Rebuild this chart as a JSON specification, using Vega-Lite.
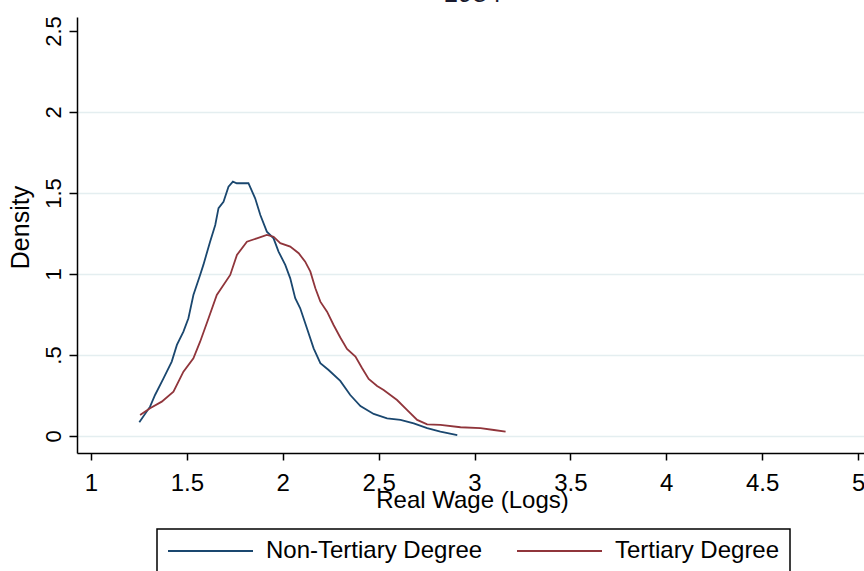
{
  "$schema": "https://vega.github.io/schema/vega-lite/v6.json",
  "width": 787,
  "height": 436,
  "autosize": {"type": "none"},
  "padding": {"left": 77, "top": 17, "right": 0, "bottom": 118},
  "background": "white",
  "title": {"text": "1984", "fontSize": 26, "font": "Liberation Sans", "fontWeight": "normal", "color": "#1a1a2e", "offset": -12, "baseline": "alphabetic", "anchor": "middle", "frame": "group", "dx": 2},
  "datasets": {
    "curves": [
      {"group": "Non-Tertiary Degree", "wage": 1.252, "density": 0.085},
      {"group": "Non-Tertiary Degree", "wage": 1.308, "density": 0.181},
      {"group": "Non-Tertiary Degree", "wage": 1.334, "density": 0.253},
      {"group": "Non-Tertiary Degree", "wage": 1.378, "density": 0.356},
      {"group": "Non-Tertiary Degree", "wage": 1.421, "density": 0.459},
      {"group": "Non-Tertiary Degree", "wage": 1.448, "density": 0.562},
      {"group": "Non-Tertiary Degree", "wage": 1.482, "density": 0.644},
      {"group": "Non-Tertiary Degree", "wage": 1.508, "density": 0.727},
      {"group": "Non-Tertiary Degree", "wage": 1.534, "density": 0.870},
      {"group": "Non-Tertiary Degree", "wage": 1.569, "density": 0.994},
      {"group": "Non-Tertiary Degree", "wage": 1.586, "density": 1.056},
      {"group": "Non-Tertiary Degree", "wage": 1.621, "density": 1.199},
      {"group": "Non-Tertiary Degree", "wage": 1.648, "density": 1.302},
      {"group": "Non-Tertiary Degree", "wage": 1.665, "density": 1.406},
      {"group": "Non-Tertiary Degree", "wage": 1.691, "density": 1.446},
      {"group": "Non-Tertiary Degree", "wage": 1.717, "density": 1.539},
      {"group": "Non-Tertiary Degree", "wage": 1.740, "density": 1.570},
      {"group": "Non-Tertiary Degree", "wage": 1.760, "density": 1.560},
      {"group": "Non-Tertiary Degree", "wage": 1.821, "density": 1.560},
      {"group": "Non-Tertiary Degree", "wage": 1.856, "density": 1.467},
      {"group": "Non-Tertiary Degree", "wage": 1.883, "density": 1.364},
      {"group": "Non-Tertiary Degree", "wage": 1.917, "density": 1.261},
      {"group": "Non-Tertiary Degree", "wage": 1.952, "density": 1.220},
      {"group": "Non-Tertiary Degree", "wage": 1.978, "density": 1.138},
      {"group": "Non-Tertiary Degree", "wage": 2.013, "density": 1.056},
      {"group": "Non-Tertiary Degree", "wage": 2.039, "density": 0.973},
      {"group": "Non-Tertiary Degree", "wage": 2.065, "density": 0.850},
      {"group": "Non-Tertiary Degree", "wage": 2.091, "density": 0.788},
      {"group": "Non-Tertiary Degree", "wage": 2.126, "density": 0.665},
      {"group": "Non-Tertiary Degree", "wage": 2.161, "density": 0.541},
      {"group": "Non-Tertiary Degree", "wage": 2.196, "density": 0.449},
      {"group": "Non-Tertiary Degree", "wage": 2.239, "density": 0.407},
      {"group": "Non-Tertiary Degree", "wage": 2.300, "density": 0.340},
      {"group": "Non-Tertiary Degree", "wage": 2.352, "density": 0.253},
      {"group": "Non-Tertiary Degree", "wage": 2.405, "density": 0.185},
      {"group": "Non-Tertiary Degree", "wage": 2.474, "density": 0.136},
      {"group": "Non-Tertiary Degree", "wage": 2.544, "density": 0.109},
      {"group": "Non-Tertiary Degree", "wage": 2.614, "density": 0.099},
      {"group": "Non-Tertiary Degree", "wage": 2.683, "density": 0.078},
      {"group": "Non-Tertiary Degree", "wage": 2.753, "density": 0.048},
      {"group": "Non-Tertiary Degree", "wage": 2.822, "density": 0.027},
      {"group": "Non-Tertiary Degree", "wage": 2.910, "density": 0.006},
      {"group": "Tertiary Degree", "wage": 1.256, "density": 0.130},
      {"group": "Tertiary Degree", "wage": 1.308, "density": 0.171},
      {"group": "Tertiary Degree", "wage": 1.369, "density": 0.212},
      {"group": "Tertiary Degree", "wage": 1.430, "density": 0.273},
      {"group": "Tertiary Degree", "wage": 1.482, "density": 0.397},
      {"group": "Tertiary Degree", "wage": 1.534, "density": 0.480},
      {"group": "Tertiary Degree", "wage": 1.569, "density": 0.582},
      {"group": "Tertiary Degree", "wage": 1.613, "density": 0.727},
      {"group": "Tertiary Degree", "wage": 1.656, "density": 0.870},
      {"group": "Tertiary Degree", "wage": 1.726, "density": 0.994},
      {"group": "Tertiary Degree", "wage": 1.761, "density": 1.117},
      {"group": "Tertiary Degree", "wage": 1.813, "density": 1.199},
      {"group": "Tertiary Degree", "wage": 1.865, "density": 1.220},
      {"group": "Tertiary Degree", "wage": 1.917, "density": 1.241},
      {"group": "Tertiary Degree", "wage": 1.952, "density": 1.230},
      {"group": "Tertiary Degree", "wage": 1.987, "density": 1.190},
      {"group": "Tertiary Degree", "wage": 2.039, "density": 1.169},
      {"group": "Tertiary Degree", "wage": 2.083, "density": 1.128},
      {"group": "Tertiary Degree", "wage": 2.117, "density": 1.076},
      {"group": "Tertiary Degree", "wage": 2.144, "density": 1.014},
      {"group": "Tertiary Degree", "wage": 2.170, "density": 0.912},
      {"group": "Tertiary Degree", "wage": 2.196, "density": 0.829},
      {"group": "Tertiary Degree", "wage": 2.231, "density": 0.767},
      {"group": "Tertiary Degree", "wage": 2.265, "density": 0.685},
      {"group": "Tertiary Degree", "wage": 2.300, "density": 0.608},
      {"group": "Tertiary Degree", "wage": 2.335, "density": 0.537},
      {"group": "Tertiary Degree", "wage": 2.379, "density": 0.490},
      {"group": "Tertiary Degree", "wage": 2.414, "density": 0.418},
      {"group": "Tertiary Degree", "wage": 2.448, "density": 0.352},
      {"group": "Tertiary Degree", "wage": 2.492, "density": 0.309},
      {"group": "Tertiary Degree", "wage": 2.526, "density": 0.284},
      {"group": "Tertiary Degree", "wage": 2.596, "density": 0.222},
      {"group": "Tertiary Degree", "wage": 2.649, "density": 0.160},
      {"group": "Tertiary Degree", "wage": 2.701, "density": 0.099},
      {"group": "Tertiary Degree", "wage": 2.753, "density": 0.072},
      {"group": "Tertiary Degree", "wage": 2.822, "density": 0.068},
      {"group": "Tertiary Degree", "wage": 2.927, "density": 0.054},
      {"group": "Tertiary Degree", "wage": 3.031, "density": 0.048},
      {"group": "Tertiary Degree", "wage": 3.101, "density": 0.037},
      {"group": "Tertiary Degree", "wage": 3.162, "density": 0.027}
    ]
  },
  "data": {"name": "curves"},
  "mark": {"type": "line", "strokeWidth": 1.8, "clip": true},
  "encoding": {
    "x": {
      "field": "wage",
      "type": "quantitative",
      "scale": {"domain": [0.927, 5.031], "nice": false, "zero": false},
      "axis": {
        "values": [1, 1.5, 2, 2.5, 3, 3.5, 4, 4.5, 5],
        "format": "~g",
        "title": "Real Wage (Logs)",
        "grid": false,
        "domainColor": "#000000",
        "domainWidth": 1.5,
        "tickColor": "#000000",
        "tickWidth": 1.5,
        "tickSize": 7,
        "labelFont": "Liberation Sans",
        "labelFontSize": 24,
        "labelColor": "#000000",
        "labelPadding": 11,
        "labelFlush": false,
        "labelOverlap": false,
        "titleFont": "Liberation Sans",
        "titleFontSize": 24,
        "titleFontWeight": "normal",
        "titleColor": "#000000",
        "titleBaseline": "alphabetic",
        "titleX": 395,
        "titleY": 54
      }
    },
    "y": {
      "field": "density",
      "type": "quantitative",
      "scale": {"domain": [-0.105, 2.586], "nice": false, "zero": false},
      "axis": {
        "values": [0, 0.5, 1, 1.5, 2, 2.5],
        "labelExpr": "datum.value == 0.5 ? '.5' : format(datum.value, '~g')",
        "title": "Density",
        "grid": true,
        "gridColor": "#e4eef0",
        "gridWidth": 1.5,
        "gridOpacity": {"condition": {"test": "datum.value == 2.5", "value": 0}, "value": 1},
        "domainColor": "#000000",
        "domainWidth": 1.5,
        "tickColor": "#000000",
        "tickWidth": 1.5,
        "tickSize": 8,
        "labelFont": "Liberation Sans",
        "labelFontSize": 22,
        "labelColor": "#000000",
        "labelAngle": 270,
        "labelAlign": "center",
        "labelBaseline": "alphabetic",
        "labelPadding": 9,
        "labelFlush": false,
        "labelOverlap": false,
        "titleFont": "Liberation Sans",
        "titleFontSize": 25,
        "titleFontWeight": "normal",
        "titleColor": "#000000",
        "titleAngle": 270,
        "titleAlign": "center",
        "titleBaseline": "alphabetic",
        "titleX": -49,
        "titleY": 210
      }
    },
    "color": {
      "field": "group",
      "type": "nominal",
      "scale": {"domain": ["Non-Tertiary Degree", "Tertiary Degree"], "range": ["#1a476f", "#90353b"]},
      "legend": {
        "orient": "none",
        "legendX": 80,
        "legendY": 512,
        "direction": "horizontal",
        "title": null,
        "symbolType": "stroke",
        "symbolSize": 7225,
        "symbolStrokeWidth": 2,
        "clipHeight": 24,
        "symbolOffset": 0,
        "labelOffset": 12,
        "columnPadding": 33,
        "padding": 10,
        "strokeColor": "#000000",
        "labelFont": "Liberation Sans",
        "labelFontSize": 24,
        "labelColor": "#000000",
        "labelLimit": 400,
        "encode": {"legend": {"update": {"strokeWidth": {"value": 1.5}}}}
      }
    }
  },
  "config": {"view": {"stroke": null}}
}
